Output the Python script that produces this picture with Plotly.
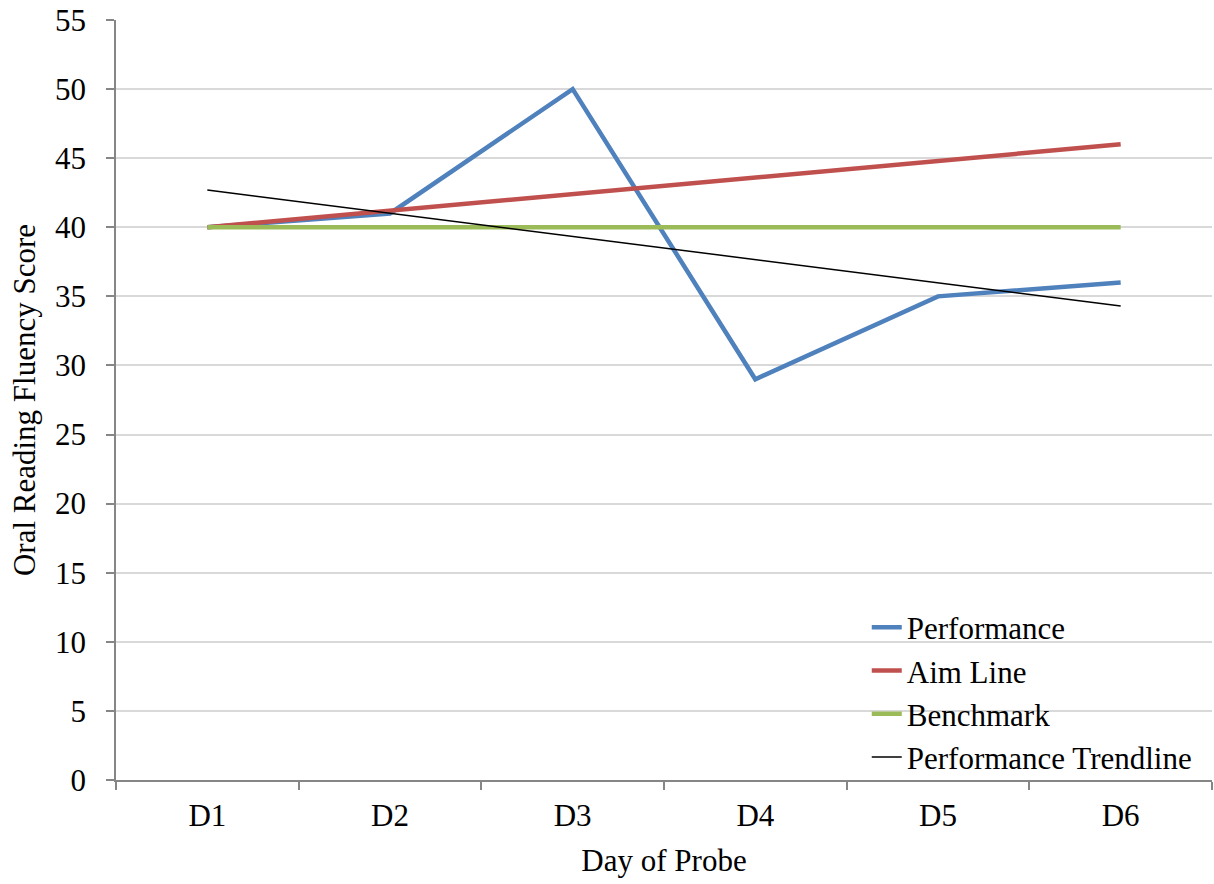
import plotly.graph_objects as go

days = ["D1", "D2", "D3", "D4", "D5", "D6"]
performance = [40, 41, 50, 29, 35, 36]
aim_line = [40, 41.2, 42.4, 43.6, 44.8, 46]
benchmark = [40, 40, 40, 40, 40, 40]
trend_days = ["D1", "D6"]
trendline = [42.7, 34.3]

FONT = "Liberation Serif"
FS = 31

fig = go.Figure()
fig.add_trace(go.Scatter(x=days, y=performance, mode="lines", name="Performance",
                         line=dict(color="#4f81bd", width=4.5)))
fig.add_trace(go.Scatter(x=days, y=aim_line, mode="lines", name="Aim Line",
                         line=dict(color="#c0504d", width=4.5)))
fig.add_trace(go.Scatter(x=days, y=benchmark, mode="lines", name="Benchmark",
                         line=dict(color="#9bbb59", width=4.5)))
fig.add_trace(go.Scatter(x=trend_days, y=trendline, mode="lines", name="Performance Trendline",
                         line=dict(color="#000000", width=1.5)))

fig.update_layout(
    width=1214, height=884,
    margin=dict(l=116, r=2, t=20, b=104),
    paper_bgcolor="white", plot_bgcolor="white",
    font=dict(family=FONT, size=FS, color="black"),
    showlegend=True,
    legend=dict(x=0.685, y=-0.006, xanchor="left", yanchor="bottom",
                bgcolor="rgba(0,0,0,0)", font=dict(family=FONT, size=FS),
                tracegroupgap=0, itemwidth=30),
    xaxis=dict(
        type="category", range=[-0.5, 5.5],
        tickson="boundaries", ticks="outside", ticklen=8, tickcolor="#868686", tickwidth=1.5,
        showline=True, linecolor="#868686", linewidth=1.5,
        showgrid=False, zeroline=False,
        tickfont=dict(family=FONT, size=FS),
        ticklabelstandoff=7,
        title=dict(text="Day of Probe", font=dict(family=FONT, size=FS), standoff=17),
    ),
    yaxis=dict(
        range=[0, 55], dtick=5, tick0=0,
        ticks="outside", ticklen=8, tickcolor="#868686", tickwidth=1.5,
        showline=True, linecolor="#868686", linewidth=1.5,
        showgrid=True, gridcolor="#d9d9d9", gridwidth=1.5,
        zeroline=False,
        tickfont=dict(family=FONT, size=FS),
        ticklabelstandoff=14,
        title=dict(text="Oral Reading Fluency Score", font=dict(family=FONT, size=FS), standoff=10),
    ),
)

fig.write_html("out.html")
